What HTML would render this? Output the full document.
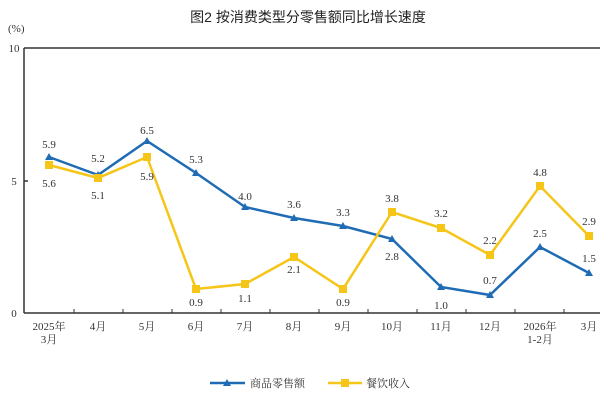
<!DOCTYPE html><html><head><meta charset="utf-8"><style>body{margin:0;background:#fff}svg{display:block}</style></head><body>
<svg width="600" height="400" xmlns="http://www.w3.org/2000/svg" font-family="'Liberation Serif','Noto Serif CJK SC',serif">
<text x="308" y="22" text-anchor="middle" font-size="14" font-family="'Liberation Sans','Noto Sans CJK SC',sans-serif" fill="#222">图2  按消费类型分零售额同比增长速度</text>
<text x="8" y="32" font-size="11" fill="#333">(%)</text>
<g stroke="#333" stroke-width="1.5" fill="none">
<line x1="24" y1="48" x2="600" y2="48"/>
<line x1="24" y1="48" x2="24" y2="313"/>
<line x1="24" y1="313" x2="600" y2="313"/>
<line x1="24" y1="181" x2="28" y2="181"/>
</g>
<g stroke="#333" stroke-width="1">
<path d="M74 313v-4M123 313v-4M172 313v-4M221 313v-4M270 313v-4M319 313v-4M368 313v-4M417 313v-4M466 313v-4M515 313v-4M564 313v-4"/>
</g>
<g font-size="11" fill="#333" text-anchor="middle">
<text x="14" y="52">10</text><text x="14" y="185">5</text><text x="14" y="317">0</text>
<text x="49" y="330">2025年</text><text x="49" y="343">3月</text>
<text x="98" y="330">4月</text><text x="147" y="330">5月</text><text x="196" y="330">6月</text><text x="245" y="330">7月</text><text x="294" y="330">8月</text><text x="343" y="330">9月</text><text x="392" y="330">10月</text><text x="441" y="330">11月</text><text x="490" y="330">12月</text><text x="540" y="330">2026年</text><text x="540" y="343">1-2月</text><text x="589" y="330">3月</text>
</g>
<polyline fill="none" stroke="#1f6cb5" stroke-width="2.5" points="49,157 98,175 147,141 196,173 245,207 294,218 343,226 392,239 441,287 490,295 540,247 589,273"/>
<g fill="#1f6cb5">
<path d="M49 153l4 7h-8zM98 171l4 7h-8zM147 137l4 7h-8zM196 169l4 7h-8zM245 203l4 7h-8zM294 214l4 7h-8zM343 222l4 7h-8zM392 235l4 7h-8zM441 283l4 7h-8zM490 291l4 7h-8zM540 243l4 7h-8zM589 269l4 7h-8z"/>
</g>
<polyline fill="none" stroke="#f5c518" stroke-width="2.5" points="49,165 98,178 147,157 196,289 245,284 294,257 343,289 392,212 441,228 490,255 540,186 589,236"/>
<g fill="#f5c518">
<rect x="45" y="161" width="8" height="8"/><rect x="94" y="174" width="8" height="8"/><rect x="143" y="153" width="8" height="8"/><rect x="192" y="285" width="8" height="8"/><rect x="241" y="280" width="8" height="8"/><rect x="290" y="253" width="8" height="8"/><rect x="339" y="285" width="8" height="8"/><rect x="388" y="208" width="8" height="8"/><rect x="437" y="224" width="8" height="8"/><rect x="486" y="251" width="8" height="8"/><rect x="536" y="182" width="8" height="8"/><rect x="585" y="232" width="8" height="8"/>
</g>
<g font-size="11" fill="#333" text-anchor="middle">
<text x="49" y="148">5.9</text><text x="98" y="162">5.2</text><text x="147" y="134">6.5</text><text x="196" y="163">5.3</text><text x="245" y="200">4.0</text><text x="294" y="208">3.6</text><text x="343" y="216">3.3</text><text x="392" y="260">2.8</text><text x="441" y="309">1.0</text><text x="490" y="284">0.7</text><text x="540" y="237">2.5</text><text x="589" y="262">1.5</text>
<text x="49" y="187">5.6</text><text x="98" y="199">5.1</text><text x="147" y="180">5.9</text><text x="196" y="306">0.9</text><text x="245" y="302">1.1</text><text x="294" y="273">2.1</text><text x="343" y="306">0.9</text><text x="392" y="202">3.8</text><text x="441" y="217">3.2</text><text x="490" y="244">2.2</text><text x="540" y="176">4.8</text><text x="589" y="225">2.9</text>
</g>
<line x1="210" y1="383" x2="245" y2="383" stroke="#1f6cb5" stroke-width="2.5"/><path d="M227 379l4 7h-8z" fill="#1f6cb5"/>
<text x="250" y="387" font-size="11" fill="#333">商品零售额</text>
<line x1="328" y1="383" x2="362" y2="383" stroke="#f5c518" stroke-width="2.5"/><rect x="341" y="379" width="8" height="8" fill="#f5c518"/>
<text x="366" y="387" font-size="11" fill="#333">餐饮收入</text>
</svg></body></html>
